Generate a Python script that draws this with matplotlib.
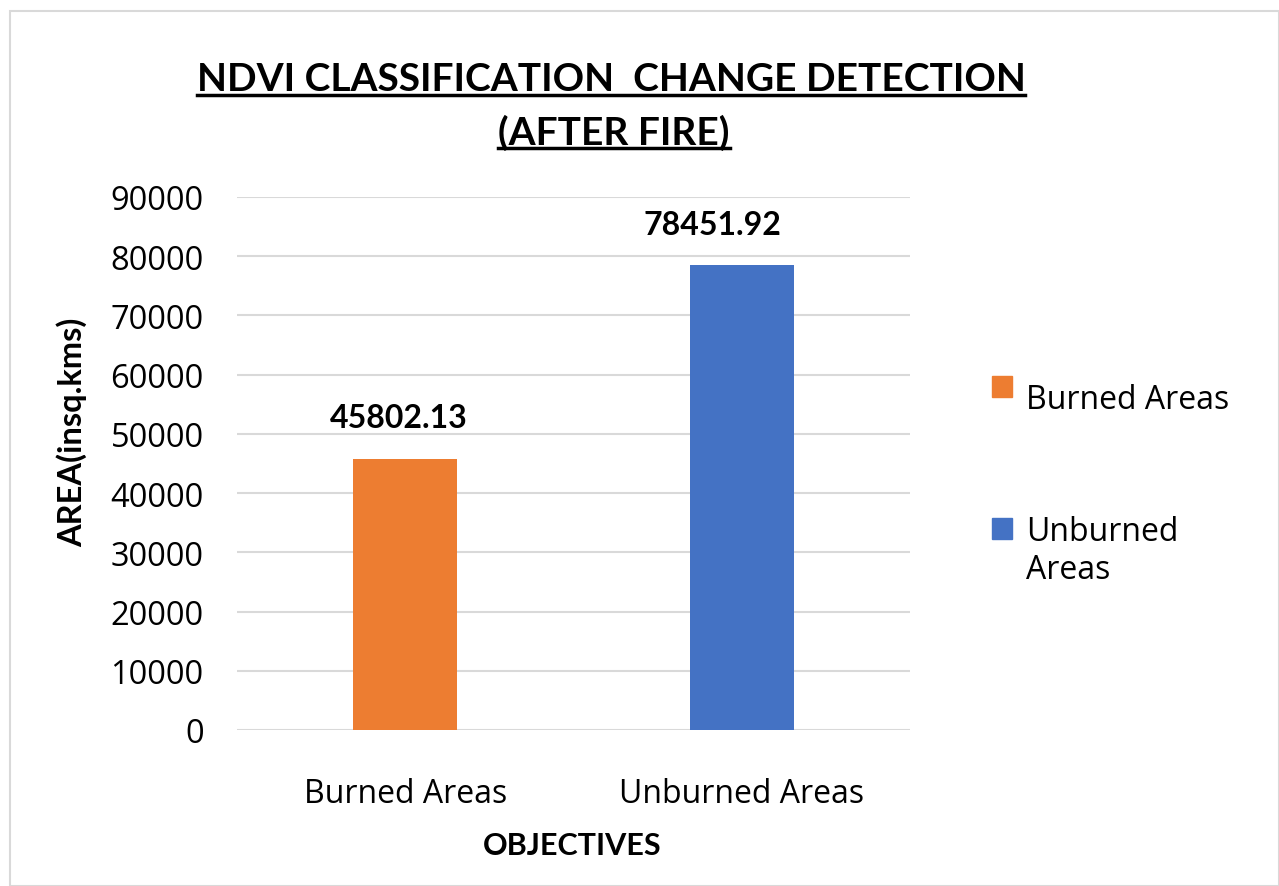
import numpy as np
import matplotlib
matplotlib.use('Agg')
import matplotlib.pyplot as plt
from matplotlib.patches import Rectangle
from matplotlib.lines import Line2D
from matplotlib.legend_handler import HandlerPatch

# data
categories = ['Burned Areas', 'Unburned Areas']
areas = [45802.13, 78451.92]
bar_colors = ['#ED7D31', '#4472C4']
legend_labels = ['Burned Areas', 'Unburned\nAreas']
yticks = [0, 10000, 20000, 30000, 40000, 50000, 60000, 70000, 80000, 90000]

plt.rcParams['font.family'] = ['Open Sans', 'DejaVu Sans']

fig = plt.figure(figsize=(12.79, 8.87), dpi=100)
fig.patches.append(Rectangle((10 / 1279, 0), 1 - 10 / 1279, 1 - 12 / 887,
                             transform=fig.transFigure, fill=False,
                             edgecolor='#d9d9d9', linewidth=1.5))

ax = fig.add_axes([237 / 1279, 156 / 887, 673 / 1279, 533 / 887])
x = np.arange(len(categories))
bars = ax.bar(x, areas, width=0.31, color=bar_colors, zorder=3)

ax.set_xlim(-0.5, 1.5)
ax.set_ylim(0, 90000)
ax.set_yticks(yticks)
ax.set_yticklabels([str(t) for t in yticks], fontsize=23.5)
ax.set_xticks(x)
ax.set_xticklabels(categories, fontsize=23)
ax.tick_params(axis='both', length=0)
ax.tick_params(axis='y', pad=24)
ax.tick_params(axis='x', pad=34)
ax.yaxis.grid(True, color='#d9d9d9', linewidth=1.5, zorder=0)
for s in ax.spines.values():
    s.set_visible(False)

# value labels above bars (second one sits a bit left of its bar in the original)
for b, v, dx in zip(bars, areas, [-5, -21]):
    ax.annotate('%.2f' % v, (b.get_x() + b.get_width() / 2, v),
                xytext=(dx, 19), textcoords='offset points',
                ha='center', va='bottom', fontsize=23, fontweight='bold',
                family='Lato')

ax.set_ylabel('AREA(insq.kms)', fontsize=23.5, fontweight='bold', family='Lato')
ax.yaxis.set_label_coords(-0.222, 0.561)
ax.set_xlabel('OBJECTIVES', fontsize=22, fontweight='bold', family='Lato')
ax.xaxis.set_label_coords(0.498, -0.19)


def square_one_line(legend, orig_handle, xdescent, ydescent, width, height, fontsize):
    return Rectangle((-xdescent, -ydescent + 0.31 * fontsize), width, height)


def square_two_lines(legend, orig_handle, xdescent, ydescent, width, height, fontsize):
    return Rectangle((-xdescent, -ydescent + 0.72 * fontsize), width, height)


handles = [Rectangle((0, 0), 1, 1, color=c) for c in bar_colors]
leg = fig.legend(handles, legend_labels, loc='upper left',
                 bbox_to_anchor=(963 / 1279, 1 - 355 / 887),
                 frameon=False, fontsize=23, handlelength=0.62,
                 handleheight=0.62, handletextpad=0.45, labelspacing=3.1,
                 handler_map={handles[0]: HandlerPatch(patch_func=square_one_line),
                              handles[1]: HandlerPatch(patch_func=square_two_lines)})

t1 = fig.text(611 / 1279, 1 - 80 / 887, 'NDVI CLASSIFICATION  CHANGE DETECTION',
              ha='center', va='center', fontsize=28, fontweight='bold',
              family='Lato')
t2 = fig.text(614 / 1279, 1 - 133 / 887, '(AFTER FIRE)',
              ha='center', va='center', fontsize=28, fontweight='bold',
              family='Lato')

# underline title lines
fig.canvas.draw()
r = fig.canvas.get_renderer()
inv = fig.transFigure.inverted()
for t in (t1, t2):
    bb = t.get_window_extent(r)
    (x0, y0), (x1, _) = inv.transform([(bb.x0, bb.y0), (bb.x1, bb.y1)])
    fig.add_artist(Line2D([x0, x1], [y0 + 2 / 887, y0 + 2 / 887],
                          transform=fig.transFigure, color='black', linewidth=2.5))

fig.savefig('out.png', dpi=100)
